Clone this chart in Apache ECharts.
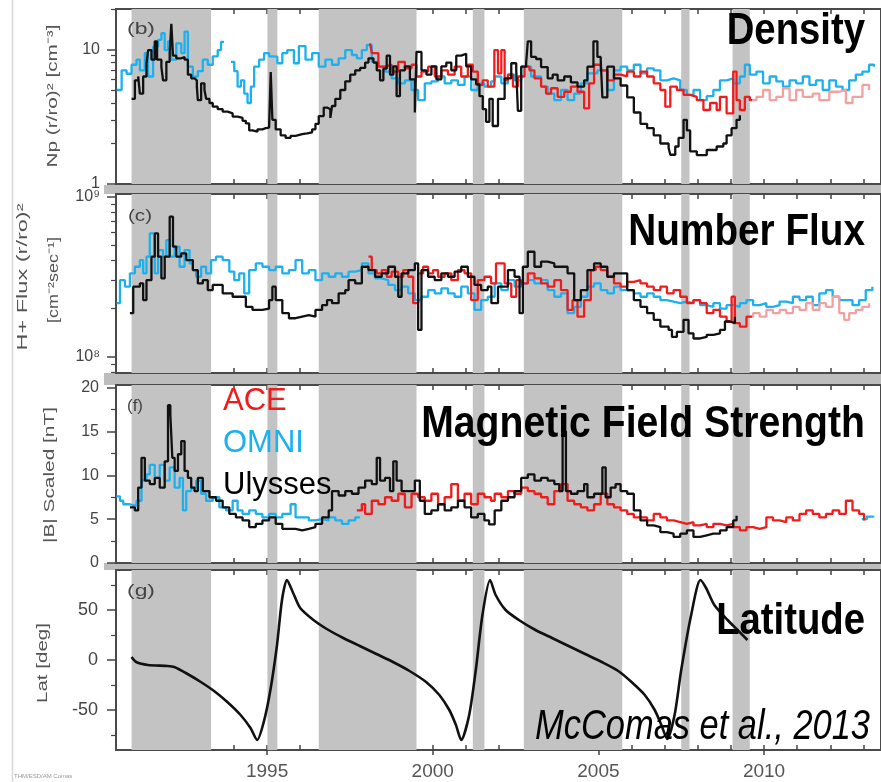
<!DOCTYPE html>
<html><head><meta charset="utf-8">
<script src="https://cdn.jsdelivr.net/npm/echarts@6/dist/echarts.min.js"></script>
<style>html,body{margin:0;padding:0;background:#fff}#c{width:881px;height:782px}</style>
</head><body><div id="c"></div>
<script>
// ================= DATA =================
// x: decimal year; shaded intervals
const bandYears = [[1990.91,1993.31],[1995.01,1995.31],[1996.56,1999.51],[2001.21,2001.56],[2002.75,2005.72],[2007.50,2007.75],[2009.05,2009.57]];
const yearTicks = [1991,1992,1993,1994,1995,1996,1997,1998,1999,2000,2001,2002,2003,2004,2005,2006,2007,2008,2009,2010,2011,2012,2013];
const yearLabels = [1995,2000,2005,2010];
const acePaleFrom = 2009.6; // ACE density/flux drawn faded after this year

// Density Np (r/ro)^2 [cm^-3]
const ulyssesNp = [[1990.91,4.3],[1991.01,5.9],[1991.11,6.3],[1991.16,4.7],[1991.26,6.3],[1991.36,7.9],[1991.41,9.9],[1991.51,8.4],[1991.61,11.5],[1991.68,8.4],[1991.81,7.4],[1991.86,5.9],[1991.96,8.1],[1992.06,9.5],[1992.11,15.5],[1992.16,9.0],[1992.26,8.6],[1992.41,8.8],[1992.51,8.4],[1992.61,6.5],[1992.71,6.1],[1992.81,5.9],[1992.88,5.3],[1992.91,4.2],[1993.01,5.6],[1993.11,5.0],[1993.16,4.3],[1993.26,4.0],[1993.36,3.76],[1993.51,3.6],[1993.66,3.45],[1993.81,3.35],[1993.96,3.17],[1994.11,3.1],[1994.26,2.95],[1994.36,2.82],[1994.46,2.5],[1994.56,2.45],[1994.71,2.55],[1994.86,2.6],[1994.96,2.62],[1995.06,2.7],[1995.11,6.8],[1995.16,3.0],[1995.26,2.55],[1995.41,2.3],[1995.56,2.2],[1995.71,2.28],[1995.86,2.35],[1996.06,2.38],[1996.21,2.42],[1996.36,2.55],[1996.46,2.8],[1996.56,3.2],[1996.71,3.7],[1996.81,3.6],[1996.91,3.1],[1996.96,3.8],[1997.06,4.3],[1997.21,5.0],[1997.36,5.8],[1997.51,6.5],[1997.66,7.0],[1997.81,7.3],[1997.96,8.0],[1998.06,8.6],[1998.21,8.0],[1998.31,7.0],[1998.41,5.9],[1998.51,7.2],[1998.61,9.0],[1998.71,6.5],[1998.81,7.5],[1998.91,4.5],[1999.01,7.0],[1999.16,7.5],[1999.31,6.0],[1999.46,3.4],[1999.51,9.6],[1999.66,7.0],[1999.81,6.5],[1999.96,7.5],[2000.11,6.0],[2000.26,7.5],[2000.41,8.0],[2000.56,7.0],[2000.71,9.0],[2000.86,9.3],[2001.01,7.5],[2001.16,6.0],[2001.31,5.5],[2001.41,4.5],[2001.51,3.6],[2001.61,2.9],[2001.71,4.3],[2001.81,2.7],[2001.97,4.3],[2002.17,6.1],[2002.37,7.9],[2002.52,7.0],[2002.57,3.5],[2002.67,7.45],[2002.82,8.0],[2002.87,11.5],[2002.97,8.8],[2003.12,8.5],[2003.27,7.4],[2003.47,6.1],[2003.62,6.5],[2003.77,5.9],[2003.97,6.3],[2004.17,5.7],[2004.37,5.3],[2004.57,5.9],[2004.67,7.45],[2004.85,11.5],[2004.97,8.8],[2005.07,8.4],[2005.12,4.4],[2005.27,7.45],[2005.47,6.1],[2005.67,5.4],[2005.87,4.4],[2006.07,3.4],[2006.27,2.8],[2006.47,2.6],[2006.67,2.3],[2006.87,2.0],[2007.12,1.85],[2007.17,1.65],[2007.32,1.9],[2007.42,2.2],[2007.57,3.0],[2007.67,2.5],[2007.77,1.75],[2007.97,1.64],[2008.27,1.79],[2008.57,1.9],[2008.77,2.0],[2008.87,2.3],[2009.02,2.6],[2009.17,3.0],[2009.27,3.25]];
const omniNp = [[1990.46,5.0],[1990.61,7.0],[1990.76,6.6],[1990.91,7.7],[1991.06,8.4],[1991.16,7.0],[1991.31,9.4],[1991.41,6.3],[1991.56,10.5],[1991.71,11.8],[1991.81,13.2],[1991.91,9.9],[1992.01,11.5],[1992.11,8.4],[1992.26,11.1],[1992.41,9.4],[1992.51,13.6],[1992.61,7.45],[1992.76,6.3],[1992.91,6.9],[1993.06,8.4],[1993.21,7.7],[1993.36,8.9],[1993.51,9.9],[1993.61,11.4],[1993.70,null],[1993.91,8.1],[1994.01,6.9],[1994.11,5.3],[1994.21,5.9],[1994.31,4.7],[1994.41,4.0],[1994.51,5.3],[1994.61,7.45],[1994.76,8.4],[1994.91,9.4],[1995.06,8.9],[1995.16,8.85],[1995.31,7.9],[1995.46,9.4],[1995.61,9.9],[1995.81,7.9],[1995.96,10.6],[1996.16,8.4],[1996.36,9.4],[1996.56,7.45],[1996.76,8.4],[1996.96,7.7],[1997.16,8.6],[1997.36,9.9],[1997.56,9.1],[1997.71,8.6],[1997.86,9.9],[1998.01,10.8],[1998.16,8.1],[1998.36,7.45],[1998.56,6.85],[1998.76,6.1],[1998.96,5.6],[1999.16,5.9],[1999.36,5.0],[1999.56,4.2],[1999.76,5.6],[1999.96,5.8],[2000.16,6.3],[2000.36,5.6],[2000.56,5.9],[2000.76,5.45],[2000.96,6.3],[2001.16,5.0],[2001.36,5.6],[2001.56,5.3],[2001.76,5.8],[2001.87,6.3],[2002.07,5.6],[2002.27,6.5],[2002.47,5.9],[2002.67,7.45],[2002.97,6.3],[2003.27,5.3],[2003.47,4.7],[2003.67,4.2],[2003.87,5.0],[2004.07,4.2],[2004.27,4.7],[2004.47,5.6],[2004.67,6.65],[2004.97,7.0],[2005.27,5.0],[2005.47,7.0],[2005.67,7.45],[2005.87,7.0],[2006.07,7.7],[2006.27,6.65],[2006.47,7.25],[2006.67,7.0],[2006.87,5.9],[2007.07,6.1],[2007.27,5.9],[2007.47,5.0],[2007.67,4.6],[2007.87,5.0],[2008.07,4.2],[2008.27,4.5],[2008.47,5.0],[2008.67,5.9],[2008.87,6.1],[2009.07,5.6],[2009.27,6.3],[2009.42,7.7],[2009.57,6.5],[2009.77,6.85],[2009.97,5.6],[2010.17,6.3],[2010.37,5.8],[2010.57,5.3],[2010.77,5.9],[2010.97,5.6],[2011.17,6.3],[2011.37,5.45],[2011.57,5.9],[2011.77,5.0],[2011.97,5.9],[2012.17,5.3],[2012.37,5.0],[2012.57,5.9],[2012.77,6.5],[2012.97,6.85],[2013.17,7.7],[2013.32,7.45]];
const aceNp = [[1998.11,11.1],[1998.16,9.4],[1998.36,7.45],[1998.56,7.7],[1998.76,6.85],[1998.96,8.1],[1999.16,7.25],[1999.36,7.7],[1999.51,6.3],[1999.66,6.85],[1999.86,7.45],[2000.06,6.3],[2000.26,7.0],[2000.46,6.5],[2000.66,7.45],[2000.86,6.3],[2001.06,7.7],[2001.21,6.85],[2001.36,5.45],[2001.51,5.9],[2001.66,5.3],[2001.86,9.9],[2001.97,6.65],[2002.07,9.9],[2002.17,5.9],[2002.27,6.5],[2002.42,5.3],[2002.57,6.3],[2002.77,7.45],[2002.92,7.0],[2003.07,6.1],[2003.27,5.3],[2003.42,4.7],[2003.57,5.15],[2003.77,4.45],[2003.97,4.85],[2004.17,5.3],[2004.37,4.85],[2004.57,3.65],[2004.72,5.6],[2004.87,7.7],[2005.07,7.0],[2005.27,5.9],[2005.47,6.5],[2005.67,6.3],[2005.87,6.85],[2006.07,6.3],[2006.27,6.85],[2006.47,6.3],[2006.67,5.6],[2006.87,5.0],[2007.02,3.76],[2007.17,5.3],[2007.37,5.0],[2007.57,4.6],[2007.77,4.45],[2007.97,4.2],[2008.17,3.55],[2008.37,4.0],[2008.57,3.55],[2008.67,4.45],[2008.87,3.35],[2009.07,6.85],[2009.17,4.2],[2009.27,3.55],[2009.42,4.45],[2009.57,4.2],[2009.77,4.45],[2009.97,5.0],[2010.17,4.2],[2010.37,4.45],[2010.57,5.15],[2010.77,4.2],[2010.97,5.0],[2011.17,4.45],[2011.47,4.7],[2011.67,4.2],[2011.97,4.85],[2012.27,5.0],[2012.47,4.0],[2012.67,4.45],[2012.97,5.45],[2013.17,5.0]];

// H+ flux (r/ro)^2, in units of 1e8 cm^-2 s^-1
const ulyssesFlux = [[1990.86,1.87],[1990.96,2.74],[1991.16,2.87],[1991.26,2.26],[1991.36,3.01],[1991.51,4.22],[1991.61,5.9],[1991.71,4.22],[1991.81,3.09],[1991.91,4.22],[1992.06,7.5],[1992.16,4.87],[1992.26,4.22],[1992.41,4.43],[1992.56,4.02],[1992.76,3.48],[1992.91,2.87],[1993.06,3.01],[1993.21,2.61],[1993.36,2.81],[1993.66,2.49],[1993.96,2.37],[1994.21,2.37],[1994.36,2.05],[1994.56,1.96],[1994.86,2.0],[1995.06,2.26],[1995.16,2.74],[1995.26,2.26],[1995.46,1.87],[1995.66,1.74],[1995.86,1.78],[1996.06,1.82],[1996.26,1.78],[1996.46,1.96],[1996.66,2.1],[1996.81,2.26],[1996.96,2.16],[1997.16,2.49],[1997.36,2.61],[1997.46,3.01],[1997.66,2.87],[1997.86,3.65],[1998.06,3.48],[1998.26,3.16],[1998.46,3.32],[1998.66,3.65],[1998.86,3.16],[1998.96,2.37],[1999.06,3.32],[1999.26,3.48],[1999.46,3.83],[1999.56,1.47],[1999.66,3.48],[1999.86,3.16],[2000.06,3.01],[2000.26,3.32],[2000.46,3.16],[2000.66,3.4],[2000.86,3.65],[2001.06,3.16],[2001.26,2.81],[2001.46,2.61],[2001.66,2.74],[2001.77,2.16],[2001.97,2.74],[2002.27,3.48],[2002.47,3.16],[2002.62,1.87],[2002.72,3.65],[2002.87,4.53],[2003.07,3.65],[2003.27,3.93],[2003.47,3.83],[2003.67,3.65],[2003.87,3.65],[2004.07,3.32],[2004.27,2.26],[2004.47,2.61],[2004.67,3.48],[2004.87,3.83],[2005.07,3.65],[2005.27,3.16],[2005.47,3.32],[2005.67,3.32],[2005.87,2.61],[2006.07,2.26],[2006.27,2.05],[2006.47,1.87],[2006.67,1.7],[2006.87,1.54],[2007.12,1.47],[2007.22,1.33],[2007.37,1.43],[2007.57,1.7],[2007.72,1.4],[2007.87,1.3],[2008.07,1.33],[2008.27,1.37],[2008.47,1.4],[2008.67,1.47],[2008.82,1.66],[2008.97,1.62],[2009.12,1.78]];
const omniFlux = [[1990.46,2.16],[1990.56,3.01],[1990.71,2.74],[1990.86,3.32],[1991.01,3.65],[1991.16,4.02],[1991.26,3.32],[1991.36,4.22],[1991.46,5.9],[1991.61,3.32],[1991.71,4.64],[1991.86,4.22],[1991.96,5.36],[1992.06,4.22],[1992.21,4.87],[1992.36,3.65],[1992.51,4.64],[1992.66,3.83],[1992.76,3.48],[1992.86,3.16],[1993.01,3.65],[1993.16,3.32],[1993.31,4.02],[1993.46,4.22],[1993.66,4.02],[1993.86,3.4],[1994.01,3.01],[1994.16,3.32],[1994.31,2.49],[1994.46,3.48],[1994.66,3.83],[1994.86,3.65],[1995.06,3.48],[1995.26,3.65],[1995.46,3.32],[1995.66,3.48],[1995.86,4.02],[1996.06,3.32],[1996.26,3.48],[1996.46,3.01],[1996.66,3.32],[1996.86,3.16],[1997.06,3.32],[1997.26,3.16],[1997.46,3.4],[1997.66,3.48],[1997.86,3.83],[1998.06,3.32],[1998.26,3.09],[1998.46,3.01],[1998.66,2.81],[1998.86,2.61],[1999.06,2.74],[1999.26,2.49],[1999.46,2.26],[1999.66,2.37],[1999.86,2.61],[2000.06,2.49],[2000.26,2.67],[2000.46,2.49],[2000.66,2.37],[2000.86,2.74],[2001.06,2.49],[2001.26,1.96],[2001.46,2.26],[2001.66,2.37],[2001.87,2.87],[2002.07,2.61],[2002.27,3.01],[2002.47,2.74],[2002.67,2.87],[2002.87,3.01],[2003.07,2.87],[2003.27,3.01],[2003.47,2.61],[2003.67,2.37],[2003.87,2.49],[2004.07,1.87],[2004.27,2.05],[2004.47,2.37],[2004.67,2.74],[2004.87,2.87],[2005.07,2.61],[2005.27,2.49],[2005.47,2.74],[2005.67,2.61],[2005.87,2.61],[2006.07,2.49],[2006.27,2.37],[2006.47,2.49],[2006.67,2.37],[2006.87,2.26],[2007.07,2.21],[2007.27,2.16],[2007.47,2.21],[2007.67,2.16],[2007.87,2.26],[2008.07,2.1],[2008.27,2.05],[2008.47,2.16],[2008.67,2.0],[2008.87,2.1],[2009.07,2.05],[2009.27,2.16],[2009.47,2.26],[2009.67,2.1],[2009.87,2.16],[2010.07,2.05],[2010.27,2.1],[2010.47,2.21],[2010.67,2.16],[2010.87,2.37],[2011.07,2.26],[2011.27,2.37],[2011.47,2.1],[2011.67,2.49],[2011.87,2.61],[2012.07,2.37],[2012.27,2.26],[2012.47,2.26],[2012.67,2.1],[2012.87,2.26],[2013.07,2.61],[2013.27,2.74]];
const aceFlux = [[1998.06,4.22],[1998.16,3.48],[1998.31,3.32],[1998.46,3.48],[1998.61,3.16],[1998.76,3.4],[1998.96,3.16],[1999.11,3.48],[1999.26,3.16],[1999.41,2.16],[1999.56,3.32],[1999.71,3.65],[1999.86,3.32],[2000.01,3.48],[2000.16,3.16],[2000.36,3.32],[2000.56,3.01],[2000.76,3.48],[2000.96,3.32],[2001.16,2.26],[2001.36,3.01],[2001.56,3.16],[2001.76,2.87],[2001.91,3.83],[2002.17,2.87],[2002.37,2.37],[2002.52,3.01],[2002.67,2.87],[2002.87,3.32],[2003.07,3.09],[2003.27,2.87],[2003.47,2.74],[2003.67,3.01],[2003.87,2.61],[2004.07,1.96],[2004.22,2.26],[2004.37,1.78],[2004.57,2.26],[2004.77,3.48],[2004.92,3.65],[2005.07,3.48],[2005.27,3.16],[2005.47,2.87],[2005.67,2.74],[2005.87,2.94],[2006.07,3.01],[2006.27,2.87],[2006.47,2.74],[2006.67,2.61],[2006.87,2.74],[2007.07,2.49],[2007.27,2.61],[2007.47,2.37],[2007.67,2.16],[2007.87,2.26],[2008.07,2.16],[2008.27,1.87],[2008.47,1.96],[2008.67,1.78],[2008.87,1.66],[2009.02,2.37],[2009.12,1.62],[2009.27,1.54],[2009.47,1.78],[2009.67,1.87],[2009.87,1.78],[2010.07,1.96],[2010.27,1.87],[2010.47,1.96],[2010.67,1.87],[2010.87,2.05],[2011.07,1.96],[2011.27,2.16],[2011.47,1.96],[2011.67,2.16],[2011.87,2.05],[2012.07,2.37],[2012.27,1.87],[2012.42,1.7],[2012.57,1.87],[2012.77,1.96],[2012.97,2.05],[2013.17,2.16]];

// |B| scaled [nT]
const ulyssesB = [[1990.86,6.35],[1991.01,6.0],[1991.11,8.6],[1991.21,12.0],[1991.31,9.4],[1991.46,9.0],[1991.61,9.7],[1991.76,8.6],[1991.91,11.6],[1992.01,18.0],[1992.08,16.9],[1992.14,12.0],[1992.21,10.5],[1992.31,12.4],[1992.41,13.9],[1992.51,10.5],[1992.61,9.7],[1992.71,8.6],[1992.81,8.2],[1992.91,9.7],[1993.06,8.2],[1993.26,7.5],[1993.46,7.1],[1993.66,6.35],[1993.86,5.6],[1994.06,5.2],[1994.26,4.85],[1994.46,4.1],[1994.66,4.47],[1994.86,4.85],[1995.06,5.2],[1995.26,4.47],[1995.46,3.9],[1995.66,3.9],[1995.86,3.72],[1996.06,3.9],[1996.26,4.1],[1996.46,4.47],[1996.66,5.2],[1996.86,6.0],[1996.96,8.2],[1997.16,7.7],[1997.36,8.2],[1997.56,7.9],[1997.76,8.6],[1997.96,9.4],[1998.16,9.0],[1998.31,12.0],[1998.41,9.4],[1998.56,9.7],[1998.71,8.2],[1998.81,11.6],[1998.91,9.4],[1999.06,8.2],[1999.26,8.2],[1999.46,9.4],[1999.61,7.1],[1999.76,5.6],[1999.96,6.0],[2000.16,6.7],[2000.36,6.0],[2000.56,6.35],[2000.76,7.1],[2000.96,6.35],[2001.16,5.2],[2001.36,5.6],[2001.56,4.85],[2001.70,4.4],[2001.87,6.0],[2002.07,7.1],[2002.27,7.5],[2002.47,8.2],[2002.67,9.7],[2002.87,10.1],[2003.07,9.4],[2003.27,9.7],[2003.47,9.4],[2003.67,9.0],[2003.82,8.2],[2003.92,15.0],[2004.02,8.2],[2004.17,7.9],[2004.37,8.2],[2004.57,9.0],[2004.67,7.5],[2004.87,7.9],[2005.12,10.9],[2005.22,7.5],[2005.37,8.6],[2005.52,9.0],[2005.67,8.2],[2005.87,7.9],[2006.07,6.0],[2006.27,4.85],[2006.47,4.28],[2006.67,4.1],[2006.87,3.53],[2007.07,3.35],[2007.27,2.97],[2007.47,3.35],[2007.67,3.72],[2007.87,2.97],[2008.07,3.16],[2008.27,3.35],[2008.47,3.35],[2008.67,3.72],[2008.87,4.1],[2009.07,4.85],[2009.17,5.4]];
const omniB = [[1990.45,7.6],[1990.56,7.1],[1990.66,6.7],[1990.86,6.5],[1991.06,7.1],[1991.21,9.4],[1991.36,10.1],[1991.46,11.2],[1991.61,9.7],[1991.76,11.2],[1991.91,9.4],[1992.06,10.9],[1992.21,8.6],[1992.36,9.7],[1992.46,6.0],[1992.56,8.2],[1992.71,8.6],[1992.86,9.4],[1993.01,7.9],[1993.16,7.1],[1993.36,7.5],[1993.56,6.35],[1993.76,6.0],[1993.96,7.1],[1994.11,6.0],[1994.26,5.6],[1994.46,6.0],[1994.66,5.6],[1994.86,5.2],[1995.06,5.6],[1995.26,5.2],[1995.46,5.6],[1995.71,6.7],[1995.86,5.2],[1996.06,5.2],[1996.26,4.85],[1996.46,5.0],[1996.66,4.85],[1996.86,5.2],[1997.06,4.85],[1997.26,4.47],[1997.46,4.85],[1997.66,5.2],[1997.80,null],[2012.95,5.0],[2013.10,5.3],[2013.30,5.2]];
const aceB = [[1997.71,6.0],[1997.86,6.7],[1997.96,5.6],[1998.16,7.1],[1998.36,6.7],[1998.56,7.5],[1998.76,7.1],[1998.96,7.9],[1999.16,6.35],[1999.36,7.9],[1999.56,7.5],[1999.76,7.1],[1999.96,7.9],[2000.16,6.7],[2000.36,7.5],[2000.56,9.0],[2000.76,7.1],[2000.96,7.9],[2001.16,6.7],[2001.36,7.9],[2001.56,7.5],[2001.76,7.1],[2001.87,7.9],[2002.07,7.5],[2002.27,8.2],[2002.47,7.9],[2002.67,8.6],[2002.87,8.2],[2003.07,7.9],[2003.27,7.5],[2003.47,6.7],[2003.67,8.2],[2003.87,9.0],[2004.07,7.1],[2004.27,6.7],[2004.47,6.35],[2004.67,6.0],[2004.87,6.7],[2005.07,7.9],[2005.27,6.7],[2005.47,6.35],[2005.67,6.0],[2005.87,5.6],[2006.07,5.2],[2006.27,5.2],[2006.47,4.85],[2006.67,5.6],[2006.87,5.2],[2007.07,4.85],[2007.27,4.66],[2007.47,4.47],[2007.67,4.66],[2007.87,4.28],[2008.07,4.47],[2008.27,4.1],[2008.47,4.47],[2008.67,4.28],[2008.87,4.47],[2009.07,4.1],[2009.27,3.72],[2009.47,4.1],[2009.67,3.9],[2009.87,4.1],[2010.07,5.2],[2010.27,4.85],[2010.47,4.66],[2010.67,5.2],[2010.87,4.85],[2011.07,5.6],[2011.27,6.0],[2011.47,5.6],[2011.67,5.2],[2011.87,5.6],[2012.07,6.0],[2012.27,5.6],[2012.47,7.1],[2012.67,6.0],[2012.87,5.6],[2013.02,4.85]];

// Ulysses heliographic latitude [deg]
const ulyssesLat = [[1990.91,3],[1991.05,-2],[1991.4,-5],[1992.0,-6],[1992.2,-7],[1992.6,-14],[1993.0,-22],[1993.4,-31],[1993.8,-42],[1994.2,-55],[1994.5,-68],[1994.7,-80],[1994.9,-62],[1995.1,-30],[1995.3,15],[1995.45,60],[1995.6,80],[1995.8,66],[1996.0,52],[1996.4,40],[1996.8,31],[1997.3,22],[1997.8,14],[1998.3,6],[1998.8,-2],[1999.3,-11],[1999.8,-22],[2000.2,-35],[2000.5,-50],[2000.7,-65],[2000.86,-80],[2001.1,-55],[2001.3,-10],[2001.5,45],[2001.73,80],[2001.9,65],[2002.2,50],[2002.6,40],[2003.1,30],[2003.6,22],[2004.1,14],[2004.6,6],[2005.1,-2],[2005.6,-11],[2006.0,-22],[2006.4,-35],[2006.7,-50],[2006.9,-65],[2007.08,-79],[2007.3,-55],[2007.5,-10],[2007.8,45],[2008.08,80],[2008.25,72],[2008.5,55],[2008.9,40],[2009.2,30],[2009.5,20]];

// ================= CHART =================
const FONT = '"Liberation Sans", Arial, Helvetica, sans-serif';
const C_ACE = '#f01c1c', C_ACE_PALE = '#f3a0a0', C_OMNI = '#1cb1ee', C_ULY = '#111111';
const X_MIN = 1990.44, X_MAX = 2013.53;
const panels = [{top:9,height:175},{top:194,height:179},{top:385,height:178},{top:570,height:180}];
const yCfg = [
  {type:'log', min:1, max:20, major:[1,10], minor:[2,3,4,5,6,7,8,9,20], labels:[1,10], fmt:v=>String(v), ref:5, fs:16, margin:16},
  {type:'log', min:0.791, max:10.4, major:[1,10], minor:[0.8,0.9,2,3,4,5,6,7,8,9], labels:[1,10], fmt:v=>(v<5?'10⁸':'10⁹'), ref:3, fs:16, margin:16},
  {type:'value', min:0, max:20.3, major:[0,5,10,15,20], minor:[2.5,7.5,12.5,17.5], labels:[0,5,10,15,20], fmt:v=>String(v), ref:5, fs:16, margin:17},
  {type:'value', min:-90, max:90, major:[-50,0,50], minor:[-75,-25,25,75], labels:[-50,0,50], fmt:v=>String(v), ref:0, fs:18, margin:18}
];
// rotated axis titles: [text, centre x, centre y, length along text]
const yTitles = [
  ['Np (r/ro)² [cm⁻³]', 53, 96, 143],
  ['H+ Flux (r/ro)²', 23, 277, 147],
  ['[cm⁻²sec⁻¹]', 54, 280, 86],
  ['|B| Scaled [nT]', 50, 475, 136],
  ['Lat [deg]', 43, 663, 80]
];
const panelTags = [['(b)',127,30,28],['(c)',128,217,24],['(f)',127,407,16],['(g)',127,592,28]];

const grid = panels.map(p => ({left:116, right:-4, top:p.top, height:p.height, show:true,
  borderColor:'#4a4a4a', borderWidth:2, backgroundColor:'#ffffff'}));

const xAxis = [];
['bottom','top'].forEach(pos => {
  panels.forEach((p, i) => {
    xAxis.push({type:'value', gridIndex:i, position:pos, min:X_MIN, max:X_MAX,
      axisLine:{show:false, onZero:false}, splitLine:{show:false},
      axisTick:{show:true, inside:true, length:5, customValues:yearTicks, lineStyle:{color:'#444', width:1.5}},
      axisLabel:(pos==='bottom' && i===3) ? {show:true, customValues:yearLabels, formatter:v=>String(v),
        fontSize:19, color:'#555', margin:12, fontFamily:FONT} : {show:false}
    });
  });
});
// outward major ticks under the bottom panel
xAxis.push({type:'value', gridIndex:3, position:'bottom', min:X_MIN, max:X_MAX,
  axisLine:{show:false, onZero:false}, splitLine:{show:false}, axisLabel:{show:false},
  axisTick:{show:true, inside:false, length:5, customValues:yearLabels, lineStyle:{color:'#444', width:1.5}}});

const yAxis = [];
yCfg.forEach((c, i) => {
  yAxis.push({type:c.type, logBase:10, gridIndex:i, position:'left', min:c.min, max:c.max,
    axisLine:{show:false, onZero:false}, splitLine:{show:false},
    axisTick:{show:true, inside:false, length:9, customValues:c.major, lineStyle:{color:'#444', width:1.5}},
    axisLabel:{show:true, customValues:c.labels, formatter:c.fmt, fontSize:c.fs, color:'#444', margin:c.margin, fontFamily:FONT}
  });
});
yCfg.forEach((c, i) => {
  yAxis.push({type:c.type, logBase:10, gridIndex:i, position:'left', min:c.min, max:c.max,
    axisLine:{show:false, onZero:false}, splitLine:{show:false}, axisLabel:{show:false},
    axisTick:{show:true, inside:false, length:5, customValues:c.minor, lineStyle:{color:'#444', width:1.2}}
  });
});

const series = [];
yCfg.forEach((c, i) => {
  series.push({type:'custom', name:'bands', xAxisIndex:i, yAxisIndex:i, z:1, silent:true,
    data:bandYears, encode:{x:[0,1]}, clip:true,
    renderItem:function (params, api) {
      const cs = params.coordSys;
      const x0 = api.coord([api.value(0), c.ref])[0];
      const x1 = api.coord([api.value(1), c.ref])[0];
      return {type:'rect', shape:{x:x0, y:cs.y, width:x1-x0, height:cs.height}, style:{fill:'#c3c3c3'}};
    }
  });
});
// ACE stroke fades after acePaleFrom: horizontal gradient over the line's own x extent
function paleAfter(data, base, pale) {
  const x0 = data[0][0], x1 = data[data.length-1][0];
  const f = Math.min(1, Math.max(0, (acePaleFrom - x0) / (x1 - x0)));
  return new echarts.graphic.LinearGradient(0, 0, 1, 0, [
    {offset:0, color:base}, {offset:f, color:base}, {offset:f, color:pale}, {offset:1, color:pale}]);
}
function line(name, data, i, color, z) {
  return {type:'line', name, data, xAxisIndex:i, yAxisIndex:i, z, step:'end', symbol:'none',
    showSymbol:false, connectNulls:false, silent:true,
    lineStyle:{color, width:2.3}, itemStyle:{color: typeof color === 'string' ? color : C_ACE}};
}
series.push(line('OMNI', omniNp, 0, C_OMNI, 3));
series.push(line('ACE', aceNp, 0, paleAfter(aceNp, C_ACE, C_ACE_PALE), 4));
series.push(line('Ulysses', ulyssesNp, 0, C_ULY, 5));
series.push(line('OMNI', omniFlux, 1, C_OMNI, 3));
series.push(line('ACE', aceFlux, 1, paleAfter(aceFlux, C_ACE, C_ACE_PALE), 4));
series.push(line('Ulysses', ulyssesFlux, 1, C_ULY, 5));
series.push(line('OMNI', omniB, 2, C_OMNI, 3));
series.push(line('ACE', aceB, 2, C_ACE, 4));
series.push(line('Ulysses', ulyssesB, 2, C_ULY, 5));
const latS = line('Ulysses', ulyssesLat, 3, C_ULY, 5); latS.step = false; latS.smooth = 0.25; latS.lineStyle.width = 2.6;
series.push(latS);

// text helpers (stretch factor from measured width so texts match the figure's lengths)
const mctx = document.createElement('canvas').getContext('2d');
function stretch(text, font, len) { mctx.font = font; return len / mctx.measureText(text).width; }
const titleFont = 'bold 44px ' + FONT;
function bigText(text, x, y, sx, font) {
  return {type:'text', x, y, scaleX:sx, z:100,
    style:{text, fill:'#000', font: font || titleFont, align:'right', verticalAlign:'middle'}};
}
const yTitleFont = '15px ' + FONT;
const graphics = [
  {type:'rect', z:-5, shape:{x:104, y:185, width:790, height:9}, style:{fill:'#bdbdbd'}},
  {type:'rect', z:-5, shape:{x:104, y:373, width:790, height:12}, style:{fill:'#bdbdbd'}},
  {type:'rect', z:-5, shape:{x:104, y:563, width:790, height:7}, style:{fill:'#bdbdbd'}},
  {type:'line', z:-5, shape:{x1:12.5, y1:0, x2:12.5, y2:782}, style:{stroke:'#d8d8d8', lineWidth:1.5}},
  bigText('Density', 865, 32, 0.87),
  bigText('Number Flux', 865, 233, 0.88),
  bigText('Magnetic Field Strength', 865, 425, 0.89),
  bigText('Latitude', 865, 622, 0.87),
  bigText('McComas et al., 2013', 870, 727, 0.82, 'italic 42px ' + FONT),
  {type:'text', x:14, y:773, z:100, style:{text:'THM/ESD/AM Comas', fill:'#999', font:'6px ' + FONT}}
];
yTitles.forEach(t => graphics.push({type:'text', x:t[1], y:t[2], rotation:Math.PI/2, z:100,
  scaleX:stretch(t[0], yTitleFont, t[3]),
  style:{text:t[0], fill:'#555', font:yTitleFont, align:'center', verticalAlign:'middle'}}));
const tagFont = '16px ' + FONT;
panelTags.forEach(t => graphics.push({type:'text', x:t[1], y:t[2], z:100,
  scaleX:stretch(t[0], tagFont, t[3]),
  style:{text:t[0], fill:'#444', font:tagFont, align:'left', verticalAlign:'middle'}}));

const option = {
  animation:false,
  backgroundColor:'#ffffff',
  grid, xAxis, yAxis, series,
  legend:{orient:'vertical', left:212, top:378, itemWidth:0, itemHeight:0, itemGap:6, selectedMode:false,
    textStyle:{fontSize:31, lineHeight:36, fontFamily:FONT},
    data:[{name:'ACE', textStyle:{color:C_ACE}}, {name:'OMNI', textStyle:{color:C_OMNI}}, {name:'Ulysses', textStyle:{color:'#000'}}]
  },
  graphic:graphics
};
const chart = echarts.init(document.getElementById('c'), null, {renderer:'canvas', width:881, height:782});
chart.setOption(option);
</script>
</body></html>
